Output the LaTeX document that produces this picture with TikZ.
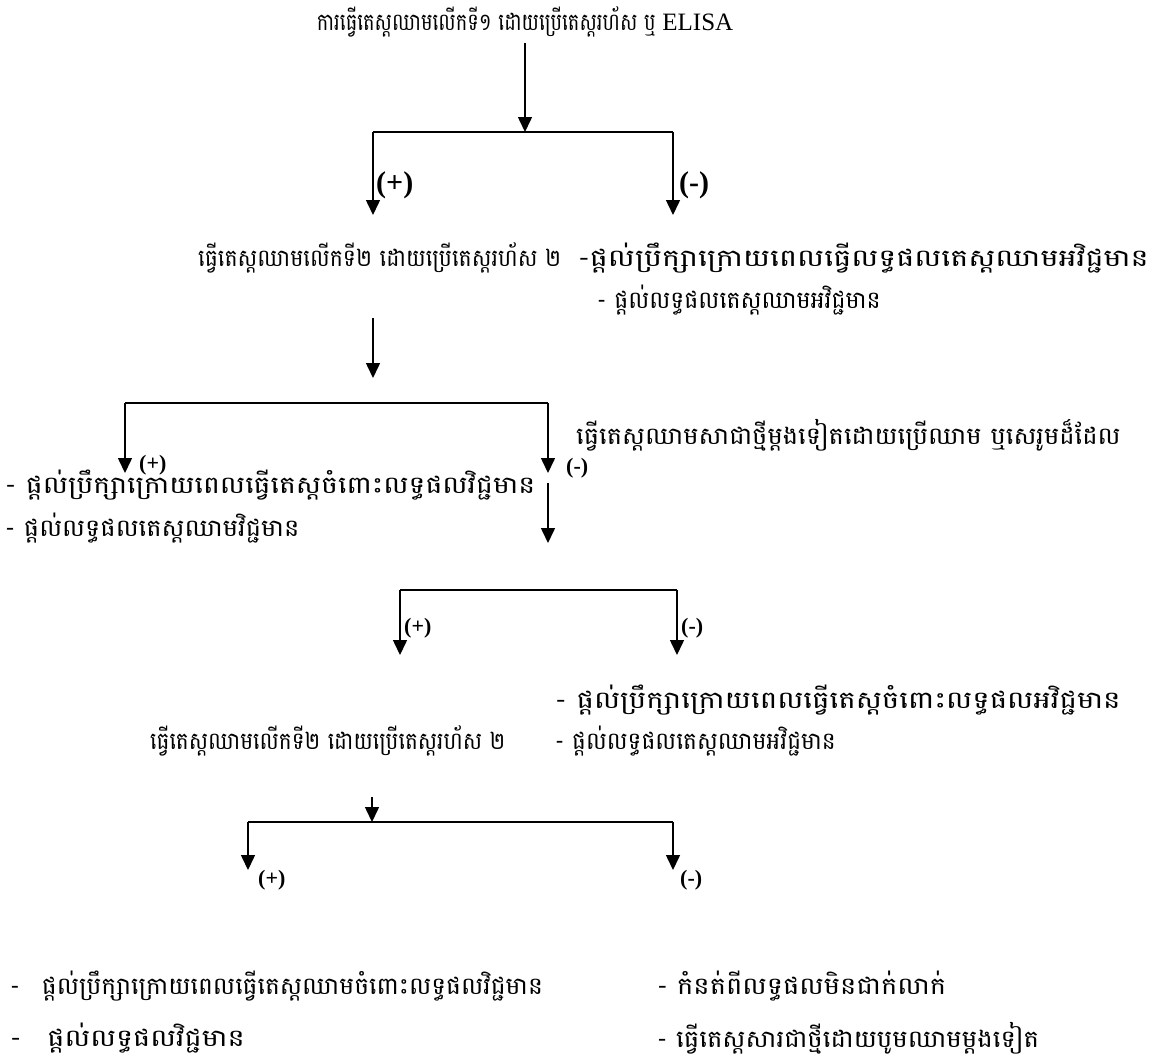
\documentclass[tikz,border=0pt]{standalone}
\usepackage{fontspec}
\setmainfont{Liberation Serif}
\newfontfamily\khmer[Script=Khmer]{Battambang}
\usetikzlibrary{arrows.meta}

\begin{document}
\begin{tikzpicture}[x=1pt,y=-1pt]
\tikzstyle{every node}=[inner sep=0pt]
\tikzset{kh/.style={anchor=west,font=\khmer\addfontfeature{FakeStretch=#1}\fontsize{24}{26}\selectfont},kh/.default=1}
\tikzstyle{sign}=[anchor=west,font=\bfseries\fontsize{22}{24}\selectfont]
\tikzstyle{bigsign}=[anchor=west,font=\bfseries\fontsize{30}{32}\selectfont]
\tikzstyle{flow}=[line width=1.5pt,-{Triangle[width=14pt,length=15pt]}]
\tikzstyle{bar}=[line width=1.5pt]
\useasboundingbox (0,0) rectangle (1150,1061);

\node[kh=0.81,anchor=center] (first) at (525,22) {ការធ្វើតេស្តឈាមលើកទី១ ដោយប្រើតេស្តរហ័ស ឬ {\rmfamily\fontsize{25}{28}\selectfont ELISA}};
\coordinate (ja) at (525,132);
\coordinate (jal) at (373,132);
\coordinate (jar) at (673,132);
\coordinate (eal) at (373,215);
\coordinate (ear) at (673,215);
\draw[flow,shorten <=6pt] (first) -- (ja);
\draw[bar] (jal) -- (jar);
\draw[flow] (jal) -- (eal);
\draw[flow] (jar) -- (ear);
\node[bigsign] (posa) at (376,185) {(+)};
\node[bigsign] (nega) at (679,185) {(-)};

\node[kh=0.92] (second) at (198,258) {ធ្វើតេស្តឈាមលើកទី២ ដោយប្រើតេស្តរហ័ស ២};
\node[kh=1.26] (negcounsel) at (578,258) {-ផ្តល់ប្រឹក្សាក្រោយពេលធ្វើលទ្ធផលតេស្តឈាមអវិជ្ជមាន};
\node[kh=0.98] (negresult) at (597,300) {- ផ្តល់លទ្ធផលតេស្តឈាមអវិជ្ជមាន};

\coordinate (sb) at (373,318);
\coordinate (tb) at (373,378);
\coordinate (jbl) at (125,403);
\coordinate (jbr) at (548,403);
\coordinate (ebl) at (125,473);
\coordinate (ebr) at (548,473);
\draw[flow] (sb) -- (tb);
\draw[bar] (jbl) -- (jbr);
\draw[flow] (jbl) -- (ebl);
\draw[flow] (jbr) -- (ebr);
\node[sign] (posb) at (139,465) {(+)};
\node[sign] (negb) at (566,468) {(-)};

\node[kh=1.07] (retest) at (576,435) {ធ្វើតេស្តឈាមសាជាថ្មីម្តងទៀតដោយប្រើឈាម ឬសេរូមដ៏ដែល};
\node[kh=1.18] (poscounsel) at (5,485) {- ផ្តល់ប្រឹក្សាក្រោយពេលធ្វើតេស្តចំពោះលទ្ធផលវិជ្ជមាន};
\node[kh=1.07] (posresult) at (5,528) {- ផ្តល់លទ្ធផលតេស្តឈាមវិជ្ជមាន};

\coordinate (sc) at (548,483);
\coordinate (tc) at (548,543);
\coordinate (jcl) at (400,590);
\coordinate (jcr) at (677,590);
\coordinate (ecl) at (400,655);
\coordinate (ecr) at (677,655);
\draw[flow] (sc) -- (tc);
\draw[bar] (jcl) -- (jcr);
\draw[flow] (jcl) -- (ecl);
\draw[flow] (jcr) -- (ecr);
\node[sign] (posc) at (404,628) {(+)};
\node[sign] (negc) at (681,628) {(-)};

\node[kh=1.22] (negcounsel2) at (555,700) {- ផ្តល់ប្រឹក្សាក្រោយពេលធ្វើតេស្តចំពោះលទ្ធផលអវិជ្ជមាន};
\node[kh=0.97] (negresult2) at (555,741) {- ផ្តល់លទ្ធផលតេស្តឈាមអវិជ្ជមាន};
\node[kh=0.9] (third) at (150,741) {ធ្វើតេស្តឈាមលើកទី២ ដោយប្រើតេស្តរហ័ស ២};

\coordinate (sd) at (372,797);
\coordinate (jd) at (372,822);
\coordinate (jdl) at (248,822);
\coordinate (jdr) at (673,822);
\coordinate (edl) at (248,870);
\coordinate (edr) at (673,870);
\draw[flow] (sd) -- (jd);
\draw[bar] (jdl) -- (jdr);
\draw[flow] (jdl) -- (edl);
\draw[flow] (jdr) -- (edr);
\node[sign] (posd) at (258,880) {(+)};
\node[sign] (negd) at (680,880) {(-)};

\node[kh=1.04] (poscounsel2) at (10,986) {-\hspace{22pt}ផ្តល់ប្រឹក្សាក្រោយពេលធ្វើតេស្តឈាមចំពោះលទ្ធផលវិជ្ជមាន};
\node[kh=1.2] (posresult2) at (10,1038) {-\hspace{26pt}ផ្តល់លទ្ធផលវិជ្ជមាន};
\node[kh=1.14] (unclear) at (657,986) {- កំនត់ពីលទ្ធផលមិនជាក់លាក់};
\node[kh=1.08] (redraw) at (657,1038) {- ធ្វើតេស្តសារជាថ្មីដោយបូមឈាមម្តងទៀត};
\end{tikzpicture}
\end{document}
